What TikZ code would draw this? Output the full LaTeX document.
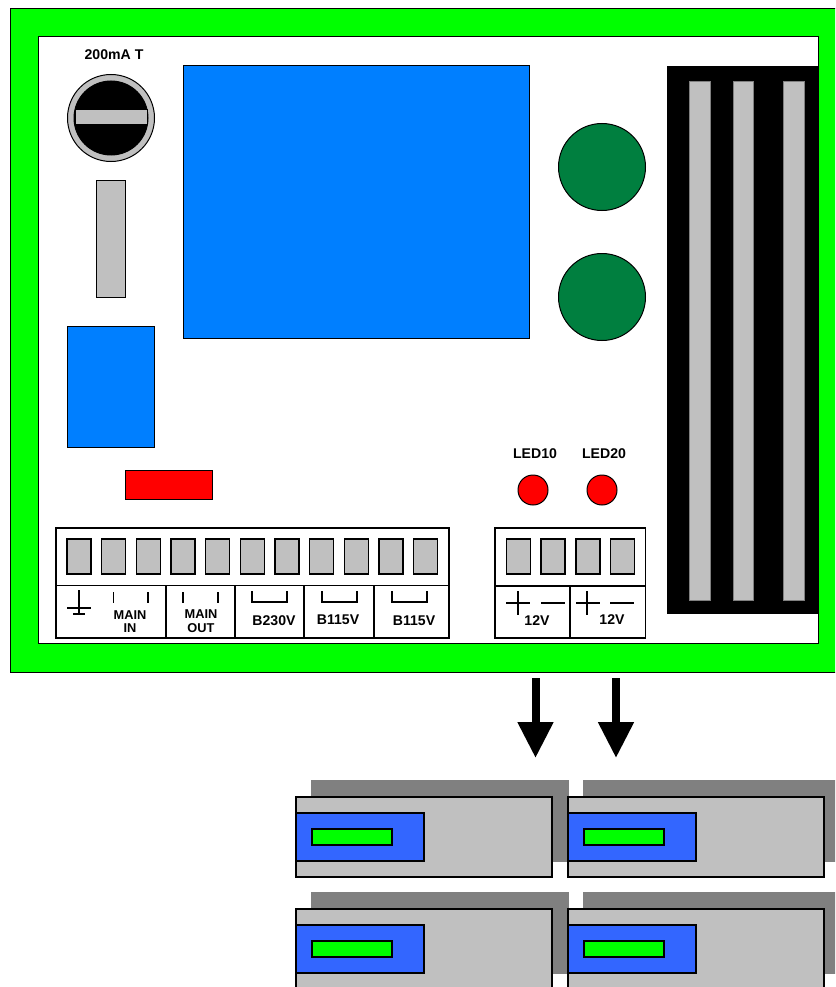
\documentclass[tikz,border=0pt]{standalone}
\usepackage{fontspec}
\setmainfont{Liberation Sans}
\usetikzlibrary{arrows.meta}
\definecolor{gfill}{HTML}{C0C0C0}
\definecolor{dgreen}{HTML}{007F3F}
\definecolor{bblue}{HTML}{007FFF}
\definecolor{bat}{HTML}{3366FF}
\definecolor{shadowgray}{HTML}{808080}
\tikzset{
  thin1/.style={draw=black,line width=1pt},
  wire/.style={draw=black,line width=1.1pt},
  term/.style={draw=black,line width=1.4pt,fill=gfill},
  lab/.style={font=\fontsize{14.1}{14}\selectfont\bfseries,inner sep=0pt,align=center},
  lab2/.style={font=\fontsize{12.8}{14}\selectfont\bfseries,inner sep=0pt,align=center},
  bigarrow/.style={line width=8pt,-{Triangle[width=34pt,length=36pt]}},
  batline/.style={draw=black,line width=1.6pt}
}
\newcommand{\battery}[2]{%
  \fill[shadowgray] (#1+15,#2-17) rectangle (#1+273,#2+65);
  \filldraw[batline,fill=gfill] (#1,#2) rectangle (#1+256,#2+80);
  \filldraw[batline,fill=bat] (#1,#2+16) rectangle (#1+128,#2+64);
  \filldraw[batline,fill=green] (#1+16,#2+32) rectangle (#1+96,#2+48);
}
\begin{document}
\begin{tikzpicture}[x=1pt,y=-1pt]
\useasboundingbox (0,0) rectangle (835,987);
\clip (0,0) rectangle (835,987);
\fill[white] (0,0) rectangle (835,987);
% board
\filldraw[thin1,fill=green] (10,9) rectangle (845,672);
\filldraw[thin1,fill=white] (38,37) rectangle (818,643);
% fuse
\node[lab] (fuselab) at (114,55) {200mA T};
\filldraw[thin1,fill=gfill] (111,118) circle (43.5);
\filldraw[thin1,fill=black] (111,118) circle (37);
\filldraw[thin1,fill=gfill] (75,110) rectangle (147,125);
\filldraw[thin1,fill=gfill] (96,181) rectangle (125,297);
% blue parts
\filldraw[thin1,fill=bblue] (67,326) rectangle (154,447);
\filldraw[thin1,fill=red] (125,470) rectangle (212,499);
\filldraw[thin1,fill=bblue] (183,66) rectangle (529,338);
% capacitors
\filldraw[thin1,fill=dgreen] (602,167) circle (43.5);
\filldraw[thin1,fill=dgreen] (602,297) circle (43.5);
% heat sink
\fill[black] (667,66) rectangle (818,614);
\filldraw[draw=shadowgray,line width=.6pt,fill=gfill] (689,81) rectangle (710,600);
\filldraw[draw=shadowgray,line width=.6pt,fill=gfill] (733,81) rectangle (753,600);
\filldraw[draw=shadowgray,line width=.6pt,fill=gfill] (783,81) rectangle (804,600);
% LEDs
\node[lab] (led1) at (535,454) {LED10};
\node[lab] (led2) at (604,454) {LED20};
\filldraw[thin1,fill=red] (533,490) circle (15);
\filldraw[thin1,fill=red] (602,490) circle (15);
% left terminal block
\draw[wire] (56,528) rectangle (449,638);
\draw[wire] (56,585.5) -- (449,585.5);
\foreach \x in {166,235,304,374} \draw[wire] (\x,585.5) -- (\x,638);
\foreach \i in {0,...,10} \filldraw[term] (67+\i*34.65,539) rectangle (91+\i*34.65,574);
% earth
\draw[wire] (79,590) -- (79,614) (67,608) -- (91,608) (73,614) -- (85,614);
% ticks and brackets
\draw[wire] (113.5,592) -- (113.5,603) (148,592) -- (148,603);
\draw[wire] (183,592) -- (183,603) (218,592) -- (218,603);
\draw[wire] (252,591) -- (252,602) -- (287,602) -- (287,591);
\draw[wire] (322,591) -- (322,602) -- (357,602) -- (357,591);
\draw[wire] (392,591) -- (392,602) -- (427,602) -- (427,591);
\node[lab2] (mainin) at (130,621.5) {MAIN\\[-.2pt]IN};
\node[lab2] (mainout) at (201,621.5) {MAIN\\[-.2pt]OUT};
\node[lab] (b230) at (274,621) {B230V};
\node[lab] (b115a) at (338,620) {B115V};
\node[lab] (b115b) at (414,621) {B115V};
% right terminal block
\draw[wire] (495,528) rectangle (645.5,638);
\draw[wire] (495,586) -- (645.5,586);
\draw[draw=black,line width=1.6pt] (570,586) -- (570,638);
\foreach \x in {506.5,541,576,610.5} \filldraw[term] (\x,539) rectangle (\x+24,574);
\draw[wire] (506,603) -- (530,603) (518,591) -- (518,615) (541,603) -- (565,603);
\draw[wire] (576,603) -- (600,603) (587,591) -- (587,615) (610,603) -- (634,603);
\node[lab] (v1) at (537,621) {12V};
\node[lab] (v2) at (612,620) {12V};
% arrows
\coordinate (a1s) at (535.5,678);
\coordinate (a1e) at (535.5,758);
\coordinate (a2s) at (616,678);
\coordinate (a2e) at (616,758);
\draw[bigarrow] (a1s) -- (a1e);
\draw[bigarrow] (a2s) -- (a2e);
% batteries
\battery{296}{797}
\battery{568}{797}
\battery{296}{909}
\battery{568}{909}
\end{tikzpicture}
\end{document}
